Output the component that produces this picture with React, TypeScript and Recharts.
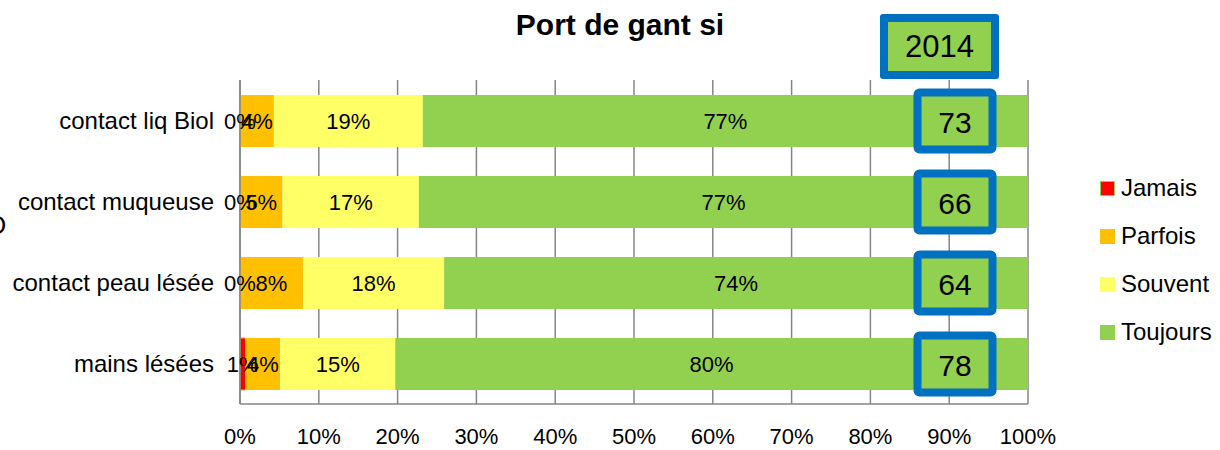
import React from "react"
import { Bar, BarChart, CartesianGrid, LabelList, XAxis, YAxis } from "recharts"

const categories = ["contact liq Biol", "contact muqueuse", "contact peau lésée", "mains lésées"]
const jamais = [0, 0, 0, 0.7]
const parfois = [4.3, 5.4, 8.0, 4.4]
const souvent = [18.9, 17.3, 17.9, 14.6]
const toujours = [76.8, 77.3, 74.1, 80.3]
const scores = [73, 66, 64, 78]
const yearLabel = "2014"
const xTicks = [0, 10, 20, 30, 40, 50, 60, 70, 80, 90, 100]

const seriesNames = ["Jamais", "Parfois", "Souvent", "Toujours"]
const colors = ["#FF0000", "#FFC000", "#FFFF66", "#92D050"]
const BLUE = "#0070C0"
const GRID = "#868686"
const FONT = "'Liberation Sans', Arial, sans-serif"

const data = categories.map((name, i) => ({
  name,
  Jamais: jamais[i],
  Parfois: parfois[i],
  Souvent: souvent[i],
  Toujours: toujours[i],
}))

const pct = (v: any) => `${Math.round(Number(v))}%`

// zero-width Jamais bars draw nothing, so put their "0%" at the start of the Parfois bar
const ZeroJamaisLabel = (props: any) => {
  const { x, y, height, index } = props
  if (jamais[index] !== 0) return null
  return (
    <text x={x} y={y + height / 2} textAnchor="middle" dominantBaseline="central" fontSize={22} fontFamily={FONT} fill="#000">
      {pct(jamais[index])}
    </text>
  )
}

// boxed score drawn near the right end of each Toujours bar
const ScoreBox = (props: any) => {
  const { x, y, width, height, index } = props
  const cx = x + width - 73
  const cy = y + height / 2
  const w = 75
  const h = 57
  return (
    <g>
      <rect x={cx - w / 2} y={cy - h / 2} width={w} height={h} rx={2} fill="#92D050" stroke={BLUE} strokeWidth={8} />
      <text x={cx} y={cy + 1} textAnchor="middle" dominantBaseline="central" fontSize={30} fontFamily={FONT} fill="#000">
        {scores[index]}
      </text>
    </g>
  )
}

export default function App() {
  return (
    <div style={{ position: "absolute", left: 0, top: 0, width: 1220, height: 450, overflow: "hidden", background: "#fff", fontFamily: FONT }}>
      <div style={{ position: "absolute", left: 0, width: 1240, top: 8, textAlign: "center", fontSize: 30, fontWeight: 700 }}>
        Port de gant si
      </div>
      <div style={{ position: "absolute", left: -14, top: 210, fontSize: 26 }}>O</div>
      <BarChart
        width={1220}
        height={450}
        data={data}
        layout="vertical"
        barSize={52}
        margin={{ top: 80, right: 192, bottom: 0, left: 0 }}
      >
        <CartesianGrid horizontal={false} vertical={true} stroke={GRID} strokeWidth={1.5} />
        <XAxis
          type="number"
          domain={[0, 100]}
          ticks={xTicks}
          tickFormatter={(v) => `${v}%`}
          height={46}
          axisLine={{ stroke: GRID, strokeWidth: 1.5 }}
          tickLine={false}
          tickSize={0}
          tickMargin={24}
          tick={{ fill: "#000", fontSize: 22, fontFamily: FONT }}
        />
        <YAxis
          type="category"
          dataKey="name"
          width={240}
          axisLine={{ stroke: GRID, strokeWidth: 1.5 }}
          tickLine={false}
          tickSize={0}
          tickMargin={26}
          tick={{ fill: "#000", fontSize: 24, fontFamily: FONT }}
        />
        {seriesNames.map((s, i) => (
          <Bar
            key={s}
            dataKey={s}
            stackId="a"
            fill={colors[i]}
            stroke={s === "Jamais" ? "#92D050" : undefined}
            strokeWidth={s === "Jamais" ? 1 : 0}
            isAnimationActive={false}
          >
            <LabelList dataKey={s} position="center" formatter={pct} fill="#000" fontSize={22} fontFamily={FONT} />
            {s === "Parfois" && <LabelList dataKey={s} content={ZeroJamaisLabel} />}
            {s === "Toujours" && <LabelList dataKey={s} content={ScoreBox} />}
          </Bar>
        ))}
      </BarChart>
      <div
        style={{
          position: "absolute",
          left: 880,
          top: 14,
          width: 103,
          height: 49,
          border: `8px solid ${BLUE}`,
          borderRadius: 3,
          background: "#92D050",
          fontSize: 31,
          lineHeight: "50px",
          textAlign: "center",
        }}
      >
        {yearLabel}
      </div>
      <div style={{ position: "absolute", left: 1100, top: 164 }}>
        {seriesNames.map((s, i) => (
          <div key={s} style={{ height: 48, display: "flex", alignItems: "center", fontSize: 24 }}>
            <span
              style={{
                width: 15,
                height: 15,
                boxSizing: "border-box",
                background: colors[i],
                border: i === 0 ? "1.5px solid #92D050" : "none",
                marginRight: 6,
                display: "inline-block",
              }}
            />
            {s}
          </div>
        ))}
      </div>
    </div>
  )
}
